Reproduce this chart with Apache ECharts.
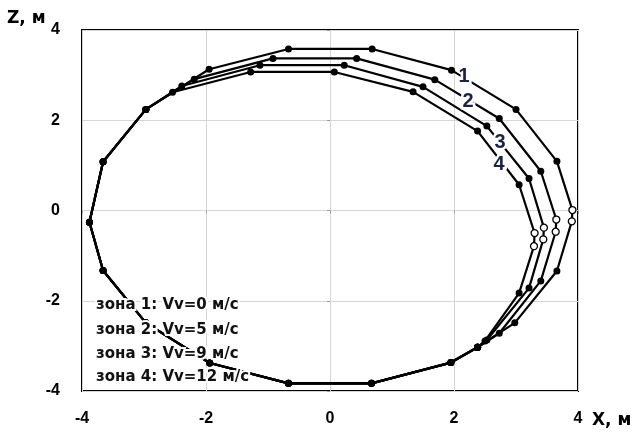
<!DOCTYPE html>
<html><head><meta charset="utf-8">
<script src="https://cdn.jsdelivr.net/npm/echarts@6/dist/echarts.min.js"></script>
<style>html,body{margin:0;padding:0;background:#fff}#c{width:634px;height:436px}</style>
</head><body><div id="c"></div>
<script>
// axis ticks
const xTicks = [-4, -2, 0, 2, 4];
const zTicks = [-4, -2, 0, 2, 4];

// shared part of all trajectories (bottom + left side)
const commonX = [2.38, 1.95, 0.67, -0.67, -1.94, -2.97, -3.66, -3.88, -3.66, -2.97];
const commonZ = [-3.03, -3.37, -3.83, -3.83, -3.38, -2.49, -1.33, -0.26, 1.08, 2.24];

// zone-specific parts (top + right side)
const zone1X = [-1.95, -0.67, 0.68, 1.96, 3.00, 3.66, 3.91, 3.90, 3.66, 2.98];
const zone1Z = [3.13, 3.58, 3.58, 3.11, 2.24, 1.09, 0.01, -0.24, -1.34, -2.49];
const zone2X = [-2.19, -0.92, 0.43, 1.69, 2.73, 3.40, 3.65, 3.64, 3.40, 2.73];
const zone2Z = [2.91, 3.37, 3.37, 2.90, 2.04, 0.87, -0.20, -0.47, -1.56, -2.72];
const zone3X = [-2.39, -1.13, 0.23, 1.50, 2.53, 3.21, 3.45, 3.44, 3.21, 2.53];
const zone3Z = [2.76, 3.22, 3.22, 2.74, 1.87, 0.71, -0.38, -0.64, -1.72, -2.87];
const zone4X = [-2.54, -1.28, 0.07, 1.34, 2.38, 3.05, 3.30, 3.29, 3.05, 2.50];
const zone4Z = [2.62, 3.07, 3.07, 2.63, 1.76, 0.57, -0.50, -0.79, -1.83, -2.89];

const curveLabels = ['1', '2', '3', '4'];
const zoneNames = ['зона 1: Vv=0 м/с', 'зона 2: Vv=5 м/с', 'зона 3: Vv=9 м/с', 'зона 4: Vv=12 м/с'];
const xName = 'X, м';
const zName = 'Z, м';

const zones = [[zone1X, zone1Z], [zone2X, zone2Z], [zone3X, zone3Z], [zone4X, zone4Z]];

function buildData(zx, zz) {
  // hollow markers: the two rightmost points of each zone
  const order = zx.map((v, i) => i).sort((a, b) => zx[b] - zx[a]);
  const hollow = new Set(order.slice(0, 2));
  const pts = [];
  commonX.forEach((x, i) => pts.push({ value: [x, commonZ[i]] }));
  zx.forEach((x, i) => {
    const item = { value: [x, zz[i]] };
    if (hollow.has(i)) item.itemStyle = { color: '#fff', borderColor: '#000', borderWidth: 1.3 };
    pts.push(item);
  });
  pts.push({ value: [commonX[0], commonZ[0]] });
  return pts;
}

const series = zones.map((z, k) => ({
  type: 'line',
  name: zoneNames[k],
  data: buildData(z[0], z[1]),
  symbol: 'circle',
  symbolSize: 7,
  showAllSymbol: true,
  lineStyle: { color: '#000', width: 2.2 },
  itemStyle: { color: '#000' },
  animation: false,
  z: 3
}));

const chart = echarts.init(document.getElementById('c'));
const labelFont = { fontFamily: 'Liberation Sans', fontWeight: 'bold', fontSize: 16, color: '#000' };

const curveLabelPos = [[464, 76], [468, 101], [500, 142], [499, 164]];
const legendY = [305, 330, 354, 377];

const graphics = [];
curveLabels.forEach((t, i) => graphics.push({
  type: 'text', z: 100, x: curveLabelPos[i][0], y: curveLabelPos[i][1],
  style: { text: t, fill: '#1c2340', stroke: '#fff', lineWidth: 5, font: 'bold 20px "Liberation Sans"', align: 'center', verticalAlign: 'middle' }
}));
zoneNames.forEach((t, i) => graphics.push({
  type: 'text', z: 100, x: 96, y: legendY[i],
  style: { text: t, fill: '#111', stroke: '#fff', lineWidth: 4, font: 'bold 15px "DejaVu Sans"', align: 'left', verticalAlign: 'middle' }
}));
graphics.push({ type: 'text', z: 100, x: 7, y: 19, style: { text: zName, fill: '#000', font: 'bold 17px "DejaVu Sans"', align: 'left', verticalAlign: 'middle' } });
graphics.push({ type: 'text', z: 100, x: 592, y: 421, style: { text: xName, fill: '#000', font: 'bold 17px "DejaVu Sans"', align: 'left', verticalAlign: 'middle' } });

chart.setOption({
  backgroundColor: '#fff',
  animation: false,
  grid: { left: 82, right: 56, top: 30, bottom: 45, show: true, borderColor: '#000', borderWidth: 2, backgroundColor: 'transparent' },
  xAxis: {
    type: 'value', min: xTicks[0], max: xTicks[xTicks.length - 1], interval: xTicks[1] - xTicks[0],
    axisLine: { show: false },
    axisTick: { show: true, length: 3, lineStyle: { color: '#999' } },
    splitLine: { show: true, lineStyle: { color: '#d6d6d6', width: 1 } },
    axisLabel: Object.assign({ margin: 20 }, labelFont)
  },
  yAxis: {
    type: 'value', min: zTicks[0], max: zTicks[zTicks.length - 1], interval: zTicks[1] - zTicks[0],
    axisLine: { show: false },
    axisTick: { show: true, length: 3, lineStyle: { color: '#999' } },
    splitLine: { show: true, lineStyle: { color: '#d6d6d6', width: 1 } },
    axisLabel: Object.assign({ margin: 22 }, labelFont)
  },
  graphic: graphics,
  series: series
});
</script></body></html>
